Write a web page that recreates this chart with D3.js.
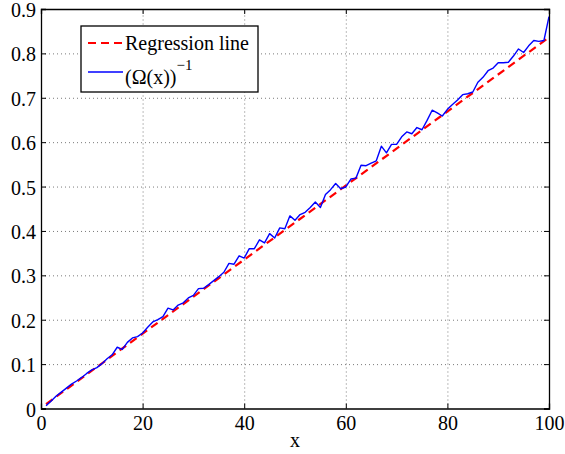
<!DOCTYPE html>
<html>
<head>
<meta charset="utf-8">
<script src="https://cdn.jsdelivr.net/npm/d3@7"></script>
<style>
  html, body { margin: 0; padding: 0; background: #fff; }
  svg { display: block; }
  svg text { font-family: "Liberation Serif", Tinos, "Times New Roman", "DejaVu Serif", serif; fill: #000; }
</style>
</head>
<body>
<svg id="chart" width="565" height="454"></svg>
<script>
// Sample index 1..100
const xValues = d3.range(1, 101);

// (Ω(x))^-1 measured at each x
const omegaInv = [
  0.006, 0.017, 0.028, 0.037, 0.046, 0.055, 0.062, 0.070, 0.079, 0.087,
  0.092, 0.101, 0.112, 0.121, 0.138, 0.133, 0.149, 0.159, 0.162, 0.170,
  0.183, 0.195, 0.200, 0.207, 0.226, 0.222, 0.233, 0.238, 0.249, 0.255,
  0.270, 0.271, 0.279, 0.288, 0.297, 0.307, 0.327, 0.325, 0.344, 0.339,
  0.360, 0.360, 0.380, 0.373, 0.394, 0.384, 0.407, 0.405, 0.434, 0.424,
  0.437, 0.442, 0.453, 0.465, 0.453, 0.482, 0.493, 0.507, 0.495, 0.499,
  0.517, 0.519, 0.548, 0.547, 0.553, 0.558, 0.591, 0.576, 0.595, 0.595,
  0.612, 0.623, 0.619, 0.633, 0.628, 0.649, 0.672, 0.666, 0.659, 0.674,
  0.685, 0.695, 0.707, 0.709, 0.713, 0.735, 0.746, 0.761, 0.767, 0.779,
  0.779, 0.780, 0.794, 0.810, 0.802, 0.817, 0.829, 0.827, 0.829, 0.883
];

// Regression line end points
const regX = [1, 100];
const regY = [0.010, 0.836];

// Tick values
const xTicks = [0, 20, 40, 60, 80, 100];
const yTicks = [0, 0.1, 0.2, 0.3, 0.4, 0.5, 0.6, 0.7, 0.8, 0.9];

const svg = d3.select("#chart");
const margin = { left: 41, right: 16, top: 9, bottom: 45.5 };
const W = 565, H = 454;
const iw = W - margin.left - margin.right;
const ih = H - margin.top - margin.bottom;

const x = d3.scaleLinear().domain([0, 100]).range([0, iw]);
const y = d3.scaleLinear().domain([0, 0.9]).range([ih, 0]);

const g = svg.append("g").attr("transform", `translate(${margin.left},${margin.top})`);

// dotted grid
const gridX = g.append("g").attr("transform", `translate(0,${ih})`)
  .call(d3.axisBottom(x).tickValues(xTicks.slice(1, -1)).tickSize(-ih).tickFormat(""));
const gridY = g.append("g")
  .call(d3.axisLeft(y).tickValues(yTicks.slice(1, -1)).tickSize(-iw).tickFormat(""));
[gridX, gridY].forEach(s => {
  s.select(".domain").remove();
  s.selectAll("line").attr("stroke", "#7a7a7a").attr("stroke-width", 1)
    .attr("stroke-dasharray", "1,3");
});

// regression line (dashed red)
const regData = regX.map((v, i) => [v, regY[i]]);
g.append("path")
  .datum(regData)
  .attr("fill", "none")
  .attr("stroke", "#ff0000")
  .attr("stroke-width", 2.2)
  .attr("stroke-dasharray", "8,5")
  .attr("d", d3.line().x(d => x(d[0])).y(d => y(d[1])));

// (Ω(x))^-1 series (solid blue)
g.append("path")
  .datum(xValues.map((v, i) => [v, omegaInv[i]]))
  .attr("fill", "none")
  .attr("stroke", "#0000ff")
  .attr("stroke-width", 1.4)
  .attr("stroke-linejoin", "round")
  .attr("d", d3.line().x(d => x(d[0])).y(d => y(d[1])));

// axes with inward ticks on all four sides
const fmtY = d => d === 0 ? "0" : d3.format(".1f")(d);
const axB = g.append("g").attr("transform", `translate(0,${ih})`)
  .call(d3.axisBottom(x).tickValues(xTicks).tickSize(-5).tickPadding(7).tickFormat(d3.format("d")));
const axL = g.append("g")
  .call(d3.axisLeft(y).tickValues(yTicks).tickSize(-5).tickPadding(5).tickFormat(fmtY));
const axT = g.append("g")
  .call(d3.axisTop(x).tickValues(xTicks).tickSize(-5).tickFormat(""));
const axR = g.append("g").attr("transform", `translate(${iw},0)`)
  .call(d3.axisRight(y).tickValues(yTicks).tickSize(-5).tickFormat(""));
[axB, axL, axT, axR].forEach(s => {
  s.attr("font-family", null);
  s.select(".domain").attr("stroke", "#000").attr("stroke-width", 1.3);
  s.selectAll(".tick line").attr("stroke", "#000").attr("stroke-width", 1);
  s.selectAll("text").attr("font-size", 20);
});
// keep the top label inside the canvas
axL.selectAll("text").attr("dy", "0.38em");

// x-axis title
svg.append("text")
  .attr("x", margin.left + iw / 2)
  .attr("y", 447)
  .attr("text-anchor", "middle")
  .attr("font-size", 20)
  .text("x");

// legend
const lg = svg.append("g");
lg.append("rect")
  .attr("x", 81).attr("y", 26).attr("width", 177).attr("height", 66)
  .attr("fill", "#fff").attr("stroke", "#000").attr("stroke-width", 1.3);
lg.append("line")
  .attr("x1", 88).attr("x2", 123).attr("y1", 43).attr("y2", 43)
  .attr("stroke", "#ff0000").attr("stroke-width", 2.2).attr("stroke-dasharray", "8,5");
lg.append("text").attr("x", 125).attr("y", 49.5).attr("font-size", 20).text("Regression line");
lg.append("line")
  .attr("x1", 88).attr("x2", 123).attr("y1", 72).attr("y2", 72)
  .attr("stroke", "#0000ff").attr("stroke-width", 1.4);
const t2 = lg.append("text").attr("x", 125).attr("y", 83.5).attr("font-size", 20);
t2.append("tspan").text("(Ω(x))");
t2.append("tspan").attr("dy", -14).attr("font-size", 15).text("−1");
</script>
</body>
</html>
